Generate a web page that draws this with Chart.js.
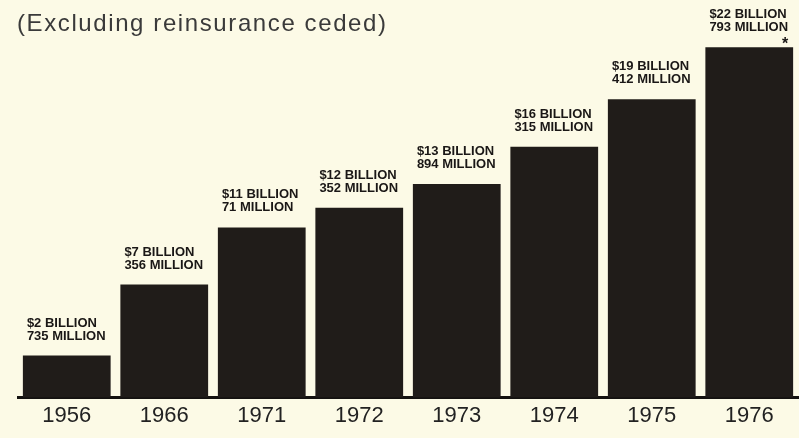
<!DOCTYPE html>
<html lang="en">
<head>
    <meta charset="UTF-8">
    <title>Reinsurance chart</title>
    <style>
        body {
            margin: 0;
            background: #fcfae6;
        }
        #wrap {
            position: relative;
            width: 799px;
            height: 438px;
        }
    </style>
    <script src="https://cdn.jsdelivr.net/npm/chart.js"></script>
</head>
<body>
    <div id="wrap">
        <canvas id="barChart"></canvas>
    </div>

    <script>
        // data
        const years = ['1956', '1966', '1971', '1972', '1973', '1974', '1975', '1976'];
        const billions = [2, 7, 11, 12, 13, 16, 19, 22];
        const millions = [735, 356, 71, 352, 894, 315, 412, 793];
        const notes = ['', '', '', '', '', '', '', '*'];
        const titleText = '(Excluding reinsurance ceded)';

        const totals = billions.map((b, i) => b + millions[i] / 1000);

        // draws the subtitle and the value labels above each bar
        const labelPlugin = {
            id: 'barLabels',
            afterDatasetsDraw(chart) {
                const ctx = chart.ctx;
                ctx.save();
                ctx.fillStyle = '#3a3a3a';
                ctx.font = '24px "Liberation Sans", Arial, sans-serif';
                ctx.letterSpacing = '1.6px';
                ctx.textAlign = 'left';
                ctx.textBaseline = 'alphabetic';
                ctx.fillText(titleText, 17, 31);
                ctx.letterSpacing = '0px';

                ctx.fillStyle = '#1a1716';
                ctx.font = 'bold 13px "Liberation Sans", Arial, sans-serif';
                const meta = chart.getDatasetMeta(0);
                meta.data.forEach((bar, i) => {
                    const left = bar.x - bar.width / 2 + 4;
                    const line1 = '$' + billions[i] + ' BILLION';
                    const line2 = millions[i] + ' MILLION';
                    const y2 = bar.y - 16;
                    ctx.textAlign = 'left';
                    ctx.fillText(line1, left, y2 - 13);
                    ctx.fillText(line2, left, y2);
                    if (notes[i]) {
                        const w = Math.max(ctx.measureText(line1).width, ctx.measureText(line2).width);
                        ctx.textAlign = 'right';
                        ctx.font = 'bold 16px "Liberation Sans", Arial, sans-serif';
                        ctx.fillText(notes[i], left + w, bar.y + 2);
                    }
                });
                ctx.restore();
            }
        };

        window.onload = function() {
            const ctx = document.getElementById('barChart').getContext('2d');
            new Chart(ctx, {
                type: 'bar',
                data: {
                    labels: years,
                    datasets: [{
                        data: totals,
                        backgroundColor: '#201c19',
                        borderWidth: 0,
                        barPercentage: 0.9,
                        categoryPercentage: 1.0
                    }]
                },
                options: {
                    responsive: true,
                    maintainAspectRatio: false,
                    animation: false,
                    layout: {
                        padding: { left: 18, right: 1, top: 0, bottom: 4 }
                    },
                    plugins: {
                        legend: { display: false },
                        tooltip: { enabled: false }
                    },
                    scales: {
                        x: {
                            grid: { display: false, drawTicks: false },
                            border: { display: true, color: '#141210', width: 3 },
                            ticks: {
                                color: '#222',
                                padding: 5,
                                font: { family: '"Liberation Sans", Arial, sans-serif', size: 22 }
                            }
                        },
                        y: {
                            display: false,
                            min: 0,
                            max: 25.86
                        }
                    }
                },
                plugins: [labelPlugin]
            });
        };
    </script>
</body>
</html>
